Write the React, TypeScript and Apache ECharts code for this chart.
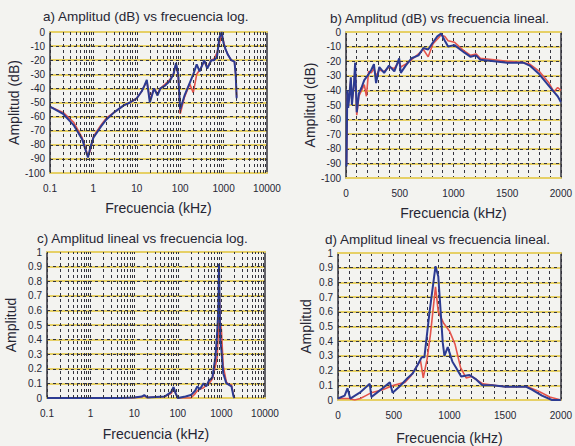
import React, { useEffect, useRef } from "react";
import * as echarts from "echarts";

// ---------- Data ----------
// a) dB vs log frequency
const A_FREQ = [0.1, 0.2, 0.35, 0.55, 0.75, 0.85, 1, 1.5, 2, 3, 5, 7, 10, 13, 15, 17, 20, 25, 30, 35, 45, 57, 70, 80, 90, 100, 126, 166, 200, 240, 280, 360, 420, 520, 600, 700, 800, 900, 1000, 1100, 1250, 1500, 1780, 1900, 2000];
const A_BLUE = [-53, -58, -66, -76, -89, -82, -75, -67, -62, -57, -52, -50, -47, -42, -38, -34, -50, -40, -45, -40, -38, -35, -30, -22, -30, -55, -45, -36, -30, -23, -28, -20, -26, -20, -20, -18, -4, 0, -8, -12, -16, -20, -21, -30, -47];
const A_RED = [-53, -57, -64, -75, -88, -84, -74, -66, -61, -57, -52, -50, -47, -42, -38, -35, -48, -40, -44, -40, -37, -34, -30, -23, -31, -58, -46, -37, -43, -30, -27, -21, -25, -20, -19, -15, -8, -2, -7, -12, -16, -20, -21, -30, -46];

// b) dB vs linear frequency
const B_FREQ = [5, 12, 20, 30, 45, 55, 65, 75, 85, 100, 120, 145, 170, 190, 210, 235, 260, 280, 310, 355, 400, 450, 495, 510, 555, 610, 675, 720, 765, 810, 850, 885, 920, 950, 1010, 1100, 1160, 1210, 1250, 1380, 1500, 1650, 1710, 1800, 1890, 1935, 1970, 2000];
const B_BLUE = [-92, -40, -52, -45, -31, -50, -42, -35, -21, -55, -42, -38, -33, -31, -29, -26, -22, -35, -24, -28, -23, -27, -18, -28, -23, -18, -16, -11, -12, -7, -3, -1, -6, -10, -9, -14, -17, -16, -19, -20, -21, -21, -23, -29, -37, -41, -44, -48];
const B_RED = [-90, -42, -50, -44, -33, -48, -42, -36, -24, -57, -44, -40, -36, -44, -27, -28, -25, -30, -26, -27, -24, -25, -20, -24, -22, -19, -15, -12, -17, -8, -5, -2, -3, -6, -7, -13, -16, -15, -18, -19, -20, -21, -22, -27, -35, -41, -38, -40];

// c) linear amplitude vs log frequency
const C_FREQ = [0.1, 1, 5, 10, 15, 17, 20, 50, 70, 80, 90, 100, 150, 200, 250, 280, 320, 390, 450, 520, 620, 730, 800, 850, 880, 940, 1000, 1100, 1300, 1500, 1700, 1900, 2000];
const C_BLUE = [0, 0, 0, 0.003, 0.01, 0.02, 0.003, 0.01, 0.04, 0.075, 0.03, 0.0, 0.01, 0.02, 0.05, 0.08, 0.06, 0.1, 0.08, 0.12, 0.14, 0.28, 0.45, 0.6, 0.92, 0.4, 0.33, 0.17, 0.1, 0.09, 0.08, 0.01, 0];
const C_RED = [0, 0, 0, 0.002, 0.008, 0.015, 0.003, 0.01, 0.03, 0.06, 0.03, 0.0, 0.0, 0.0, 0.03, 0.05, 0.06, 0.07, 0.09, 0.1, 0.13, 0.22, 0.28, 0.45, 0.78, 0.52, 0.47, 0.22, 0.11, 0.09, 0.09, 0.02, 0];

// d) linear amplitude vs linear frequency
const D_FREQ_BLUE = [0, 60, 85, 110, 195, 255, 285, 300, 350, 400, 465, 490, 550, 625, 670, 715, 750, 775, 820, 875, 900, 940, 955, 985, 1027, 1060, 1105, 1180, 1240, 1295, 1385, 1505, 1690, 1740, 1830, 1920, 2000];
const D_BLUE = [0.01, 0.03, 0.08, 0.01, 0.05, 0.09, 0.11, 0.02, 0.05, 0.08, 0.12, 0.05, 0.09, 0.15, 0.18, 0.24, 0.29, 0.29, 0.59, 0.91, 0.84, 0.39, 0.3, 0.36, 0.26, 0.22, 0.16, 0.17, 0.14, 0.1, 0.1, 0.09, 0.09, 0.07, 0.03, 0.0, 0.0];
const D_FREQ_RED = [0, 100, 150, 200, 250, 300, 400, 500, 600, 650, 700, 740, 765, 800, 830, 875, 900, 950, 1000, 1050, 1100, 1150, 1200, 1300, 1500, 1700, 1800, 1900, 2000];
const D_RED = [0.01, 0.01, 0.0, 0.01, 0.03, 0.05, 0.07, 0.1, 0.12, 0.16, 0.22, 0.27, 0.15, 0.28, 0.45, 0.77, 0.6, 0.52, 0.47, 0.38, 0.22, 0.15, 0.16, 0.11, 0.09, 0.09, 0.06, 0.02, 0.0];

// Tick labels / grid positions
const LOG_DECADES = [0.1, 1, 10, 100, 1000];
const LOG_MULTS = [1, 2, 3, 4, 5, 6, 7, 8, 9];
const TITLES = [
  "a) Amplitud (dB) vs frecuencia log.",
  "b) Amplitud (dB) vs frecuencia lineal.",
  "c) Amplitud lineal vs frecuencia log.",
  "d) Amplitud lineal vs frecuencia lineal.",
];
const X_NAME = "Frecuencia (kHz)";
const Y_NAMES = ["Amplitud (dB)", "Amplitud (dB)", "Amplitud", "Amplitud"];

// ---------- Styling ----------
const FONT = "'Liberation Sans', Arial, sans-serif";
const TXT = "#262634";
const YELLOW = "#e6d066";
const DARK = "#33333d";
const BLUE = "#2c3b92";
const RED = "#e4544c";

const zip = (xs: number[], ys: number[]) => xs.map((x, i) => [x, ys[i]]);

const GRIDS = [
  { left: 50, top: 32, width: 217, height: 141 },
  { left: 346, top: 32, width: 219, height: 146 },
  { left: 47, top: 252, width: 218, height: 146 },
  { left: 338, top: 253, width: 224, height: 147 },
];
const X_GAPS = [28, 28, 29, 31];
const Y_GAPS = [29, 27, 29, 25];
const TITLE_POS = [
  { left: 43, top: 9 },
  { left: 330, top: 11 },
  { left: 37, top: 231 },
  { left: 325, top: 232 },
];

function xAxesFor(i: number, log: boolean) {
  const common = {
    gridIndex: i,
    min: log ? 0.1 : 0,
    max: log ? 10000 : 2000,
    axisTick: { show: false },
    axisLine: { show: true, onZero: false, lineStyle: { color: YELLOW, width: 2 } },
  };
  const bottom: any = {
    ...common,
    type: log ? "log" : "value",
    position: "bottom",
    name: X_NAME,
    nameLocation: "middle",
    nameGap: X_GAPS[i],
    nameTextStyle: { fontFamily: FONT, fontSize: 14, color: TXT },
    axisLabel: {
      margin: 10,
      fontFamily: FONT,
      fontSize: 10,
      color: TXT,
      formatter: (v: number) => (v < 1 && v > 0 ? v.toFixed(1) : String(Math.round(v))),
    },
    splitLine: { show: false },
  };
  if (log) bottom.logBase = 10;
  else bottom.interval = 500;
  const top: any = {
    ...common,
    type: log ? "log" : "value",
    position: "top",
    axisLabel: { show: false },
    splitLine: log
      ? { show: false }
      : { show: true, lineStyle: { color: DARK, width: 1, type: [3, 3] } },
  };
  if (log) top.logBase = 10;
  else top.interval = 100;
  return [bottom, top];
}

function yAxesFor(i: number, db: boolean) {
  const common = {
    gridIndex: i,
    type: "value",
    min: db ? -100 : 0,
    max: db ? 0 : 1,
    interval: db ? 10 : 0.1,
    axisTick: { show: false },
    axisLine: { show: true, onZero: false, lineStyle: { color: DARK, width: 1.5 } },
  };
  const left: any = {
    ...common,
    position: "left",
    name: Y_NAMES[i],
    nameLocation: "middle",
    nameGap: Y_GAPS[i],
    nameTextStyle: { fontFamily: FONT, fontSize: 14, color: TXT },
    axisLabel: { margin: 5, fontFamily: FONT, fontSize: 10, color: TXT },
    splitLine: { show: true, lineStyle: { color: YELLOW, width: 2 } },
  };
  const right: any = {
    ...common,
    position: "right",
    axisLabel: { show: false },
    splitLine: { show: true, lineStyle: { color: DARK, width: 1, type: [3, 3] } },
  };
  return [left, right];
}

const minorLogLines = () => {
  const out: any[] = [];
  LOG_DECADES.forEach((d) => LOG_MULTS.forEach((m) => out.push({ xAxis: d * m })));
  return out;
};

function seriesFor(i: number, log: boolean, red: number[][], blue: number[][]) {
  const s: any[] = [];
  if (log) {
    s.push({
      type: "line",
      xAxisIndex: 2 * i,
      yAxisIndex: 2 * i,
      data: [],
      silent: true,
      z: 1,
      markLine: {
        silent: true,
        symbol: "none",
        label: { show: false },
        lineStyle: { color: DARK, width: 1, type: [3, 3] },
        data: minorLogLines(),
        animation: false,
      },
    });
  }
  s.push({
    type: "line",
    xAxisIndex: 2 * i,
    yAxisIndex: 2 * i,
    data: red,
    showSymbol: false,
    lineStyle: { color: RED, width: 1.6 },
    z: 3,
  });
  s.push({
    type: "line",
    xAxisIndex: 2 * i,
    yAxisIndex: 2 * i,
    data: blue,
    showSymbol: false,
    lineStyle: { color: BLUE, width: 2 },
    z: 4,
  });
  return s;
}

export default function App() {
  const ref = useRef<HTMLDivElement>(null);
  useEffect(() => {
    if (!ref.current) return;
    const chart = echarts.init(ref.current, undefined, { renderer: "svg" });
    const kinds = [
      { log: true, db: true, red: zip(A_FREQ, A_RED), blue: zip(A_FREQ, A_BLUE) },
      { log: false, db: true, red: zip(B_FREQ, B_RED), blue: zip(B_FREQ, B_BLUE) },
      { log: true, db: false, red: zip(C_FREQ, C_RED), blue: zip(C_FREQ, C_BLUE) },
      { log: false, db: false, red: zip(D_FREQ_RED, D_RED), blue: zip(D_FREQ_BLUE, D_BLUE) },
    ];
    const xAxis: any[] = [];
    const yAxis: any[] = [];
    const series: any[] = [];
    kinds.forEach((k, i) => {
      xAxis.push(...xAxesFor(i, k.log));
      yAxis.push(...yAxesFor(i, k.db));
      series.push(...seriesFor(i, k.log, k.red, k.blue));
    });
    chart.setOption({
      animation: false,
      backgroundColor: "#f3f3f0",
      title: TITLES.map((t, i) => ({
        text: t,
        left: TITLE_POS[i].left,
        top: TITLE_POS[i].top,
        padding: 0,
        textStyle: { fontFamily: FONT, fontSize: 13.5, fontWeight: "normal", color: TXT },
      })),
      grid: GRIDS.map((g) => ({ ...g, containLabel: false })),
      xAxis,
      yAxis,
      series,
    });
    return () => chart.dispose();
  }, []);
  return (
    <div
      ref={ref}
      style={{ position: "absolute", left: 0, top: 0, width: 575, height: 446 }}
    />
  );
}
